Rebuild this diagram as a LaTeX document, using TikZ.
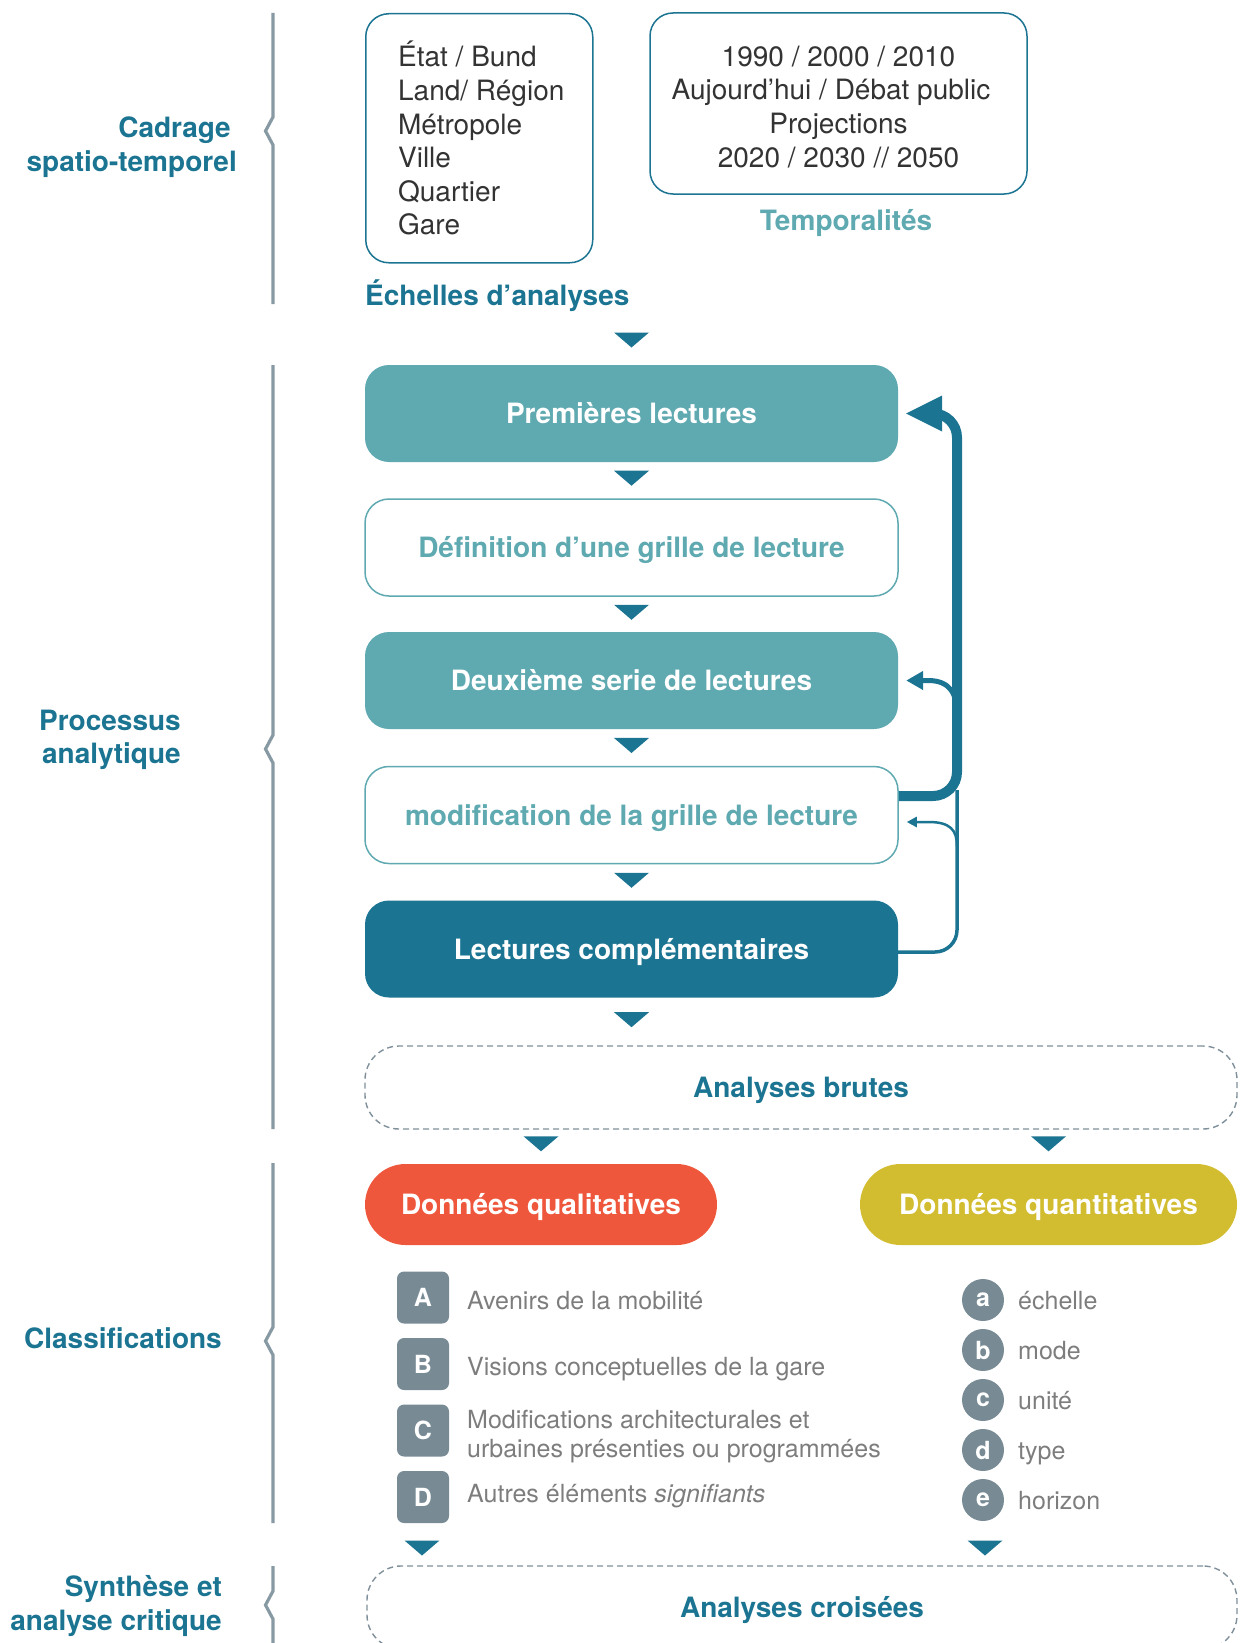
\documentclass[tikz,border=0pt]{standalone}
\usepackage{fontspec}
\setmainfont{TeX Gyre Heros}
\usetikzlibrary{arrows.meta,calc}
\definecolor{dteal}{HTML}{1B7491}
\definecolor{mteal}{HTML}{5FA9B1}
\definecolor{bracec}{HTML}{8799A3}
\definecolor{slate}{HTML}{788B95}
\definecolor{txtgray}{HTML}{7D7D7D}
\definecolor{txtdark}{HTML}{333333}
\definecolor{redq}{HTML}{EF573C}
\definecolor{yelq}{HTML}{D2BC2F}
\definecolor{dashc}{HTML}{7F909A}
\newcommand\fs[2]{\fontsize{#1}{#2}\selectfont}
\begin{document}
\begin{tikzpicture}[x=1pt,y=-1pt,
 brace/.style={draw=bracec,line width=3.2pt,line join=miter},
 side/.style={font=\fs{28}{33.5}\bfseries,text=dteal,align=right,anchor=east,inner sep=0pt},
 topbox/.style={draw=dteal,line width=1.5pt,rounded corners=23pt,font=\fs{28}{33.6},text=txtdark},
 mainbox/.style={rounded corners=24pt,minimum width=533pt,minimum height=97pt,font=\fs{28}{33}\bfseries,text height=20pt,text depth=0pt,inner sep=0pt},
 filledbox/.style={mainbox,fill=mteal,text=white},
 openbox/.style={mainbox,draw=mteal,line width=1.5pt,fill=white,text=mteal},
 darkbox/.style={mainbox,fill=dteal,text=white},
 dashbox/.style={draw=dashc,line width=1.4pt,dash pattern=on 6pt off 4pt,rounded corners=34pt,minimum width=872pt,minimum height=83pt,font=\fs{28}{33}\bfseries,text=dteal,text height=20pt,text depth=0pt,inner sep=0pt},
 pill/.style={rounded corners=40.5pt,minimum height=81pt,font=\fs{28}{33}\bfseries,text=white,text height=20pt,text depth=0pt,inner sep=0pt},
 lbox/.style={fill=slate,rounded corners=7pt,minimum size=52pt,inner sep=0pt,text=white,font=\fs{25}{30}\bfseries},
 lcirc/.style={circle,fill=slate,minimum size=42pt,inner sep=0pt,text=white,font=\fs{25}{30}\bfseries},
 item/.style={anchor=west,inner sep=0pt,text=txtgray,font=\fs{25}{29},text height=18pt,text depth=0pt},
 itemtwo/.style={anchor=west,inner sep=0pt,text=txtgray,font=\fs{25}{29},align=left},
 lbl/.style={inner sep=0pt,font=\fs{28}{33}\bfseries,text height=20pt,text depth=0pt},
 downtri/.pic={\fill[dteal] (-17.5,-7.5) -- (17.5,-7.5) -- (0,7.5) -- cycle;}
]
\useasboundingbox (0,0) rectangle (1240,1643);
\clip (0,0) rectangle (1240,1643);

% braces
\draw[brace] (273,13) -- (273,117) -- (265.5,131) -- (273,145) -- (273,304);
\draw[brace] (273,365) -- (273,735) -- (265.5,749) -- (273,763) -- (273,1129);
\draw[brace] (273,1163) -- (273,1327) -- (265.5,1341) -- (273,1355) -- (273,1523);
\draw[brace] (273,1566) -- (273,1591) -- (265.5,1605) -- (273,1619) -- (273,1650);

% side labels
\node[side] (cadrage) at (237,147) {Cadrage\hspace*{6pt}\\spatio-temporel};
\node[side] (processus) at (181,740) {Processus\\analytique};
\node[side,text height=20pt,text depth=0pt] (classif) at (222,1338) {Classifications};
\node[side] (synthese) at (222,1606) {Synthèse et\\analyse critique};

% top boxes
\node[topbox,anchor=north west,minimum width=227pt,minimum height=249pt,align=left,inner sep=0pt] (echelles) at (365,13) {\hspace*{4pt}État / Bund\\\hspace*{4pt}Land/ Région\\\hspace*{4pt}Métropole\\\hspace*{4pt}Ville\\\hspace*{4pt}Quartier\\\hspace*{4pt}Gare};
\node[topbox,minimum width=377pt,minimum height=181pt,align=center] (temporal) at (838.5,103.5) {\rule{0pt}{27pt}1990 / 2000 / 2010\\Aujourd’hui / Débat public\hbox to 15pt{}\\Projections\\2020 / 2030 // 2050};
\node[lbl,text=mteal] (templbl) at (846,220) {Temporalités};
\node[lbl,text=dteal,anchor=west] (echlbl) at (365,295.5) {Échelles d’analyses};

% main process boxes
\node[filledbox] (prem) at (631.5,413.5) {Premières lectures};
\node[openbox] (def) at (631.5,547.5) {Définition d’une grille de lecture};
\node[filledbox] (deux) at (631.5,680.5) {Deuxième serie de lectures};
\node[openbox] (modif) at (631.5,815) {modification de la grille de lecture};
\node[darkbox] (lect) at (631.5,949) {Lectures complémentaires};
\node[dashbox] (brutes) at (801,1087.5) {Analyses brutes};
\node[pill,fill=redq,minimum width=352pt] (qual) at (541,1204.5) {Données qualitatives};
\node[pill,fill=yelq,minimum width=377pt] (quant) at (1048.5,1204.5) {Données quantitatives};

% down triangles
\pic at (631.5,340) {downtri};
\pic at ($(prem.south)!0.5!(def.north)+(0,-2)$) {downtri};
\pic at ($(def.south)!0.5!(deux.north)+(0,-2)$) {downtri};
\pic at ($(deux.south)!0.5!(modif.north)+(0,-2)$) {downtri};
\pic at ($(modif.south)!0.5!(lect.north)+(0,-2)$) {downtri};
\pic at ($(lect.south)+(0,22)$) {downtri};
\pic at ($(qual.north)+(0,-20)$) {downtri};
\pic at ($(quant.north)+(0,-20)$) {downtri};

% qualitative list
\node[lbox] (A) at (423,1297.5) {A};
\node[item] (tA) at (467,1300) {Avenirs de la mobilité};
\node[lbox] (B) at (423,1364) {B};
\node[item] (tB) at (467,1366) {Visions conceptuelles de la gare};
\node[lbox] (C) at (423,1430.5) {C};
\node[itemtwo] (tC) at (467,1437) {Modifications architecturales et\\urbaines présenties ou programmées};
\node[lbox] (D) at (423,1497) {D};
\node[item] (tD) at (467,1493) {Autres éléments \textit{signifiants}};

% quantitative list
\node[lcirc] (ca) at (983,1300) {a};
\node[item] (ta) at (1018,1300) {échelle};
\node[lcirc] (cb) at (983,1350) {b};
\node[item] (tb) at (1018,1350) {mode};
\node[lcirc] (cc) at (983,1400) {c};
\node[item] (tc) at (1018,1400) {unité};
\node[lcirc] (cd) at (983,1450) {d};
\node[item] (td) at (1018,1450) {type};
\node[lcirc] (ce) at (983,1500) {e};
\node[item] (te) at (1018,1500) {horizon};

\pic at (422,1548) {downtri};
\pic at (985,1548) {downtri};

\node[dashbox,minimum width=870pt] (croisees) at (802,1607.5) {Analyses croisées};

% feedback arrows
\draw[dteal,line width=3.5pt,rounded corners=22pt] ($(lect.east)+(0,3)$) -| (957,790);
\draw[dteal,line width=10pt,rounded corners=24pt] ($(modif.east)+(0,-19)$) -| (957,413.5) -- ($(prem.east)+(32,0)$);
\fill[dteal] ($(prem.east)+(8,0)$) -- ++(36,-18) -- ++(0,36) -- cycle;
\draw[dteal,line width=5pt,-{Triangle[length=17pt,width=18pt]}] (957,714) .. controls (957,694) and (950,680.5) .. ($(deux.east)+(30,0)$) -- ($(deux.east)+(8,0)$);
\draw[dteal,line width=2.5pt,-{Triangle[length=10pt,width=10pt]}] (957,846) .. controls (957,830) and (950,822) .. ($(modif.east)+(30,7)$) -- ($(modif.east)+(8,7)$);
\end{tikzpicture}
\end{document}
